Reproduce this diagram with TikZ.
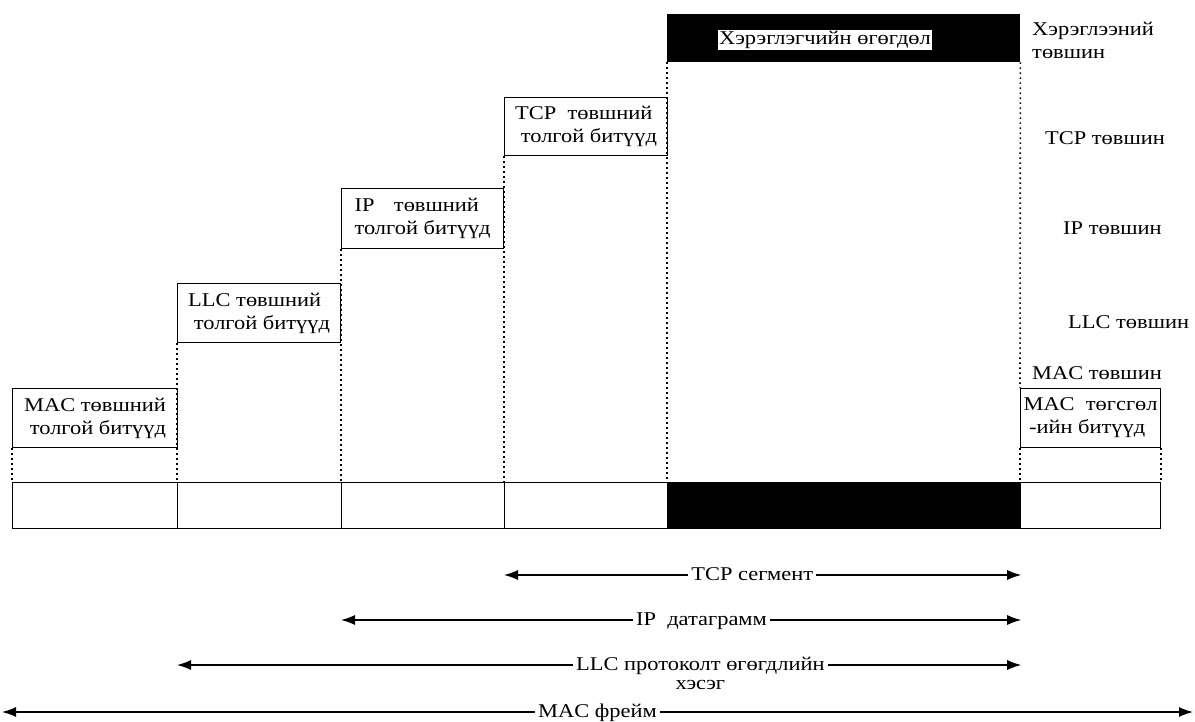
\documentclass[tikz,border=0pt]{standalone}
\usepackage{fontspec}
\setmainfont[FakeStretch=1.15]{Liberation Serif}
\usetikzlibrary{arrows.meta,positioning}

\tikzset{
  hdr/.style={draw, line width=1.2pt, align=left, inner sep=2pt, anchor=north west},
  cell/.style={draw, line width=1.2pt, minimum height=46pt, inner sep=0pt, anchor=north west},
  dots/.style={line width=1.6pt, dash pattern=on 1.6pt off 3.4pt},
  span/.style={line width=1.2pt, {Latex[length=14pt,width=10pt]}-{Latex[length=14pt,width=10pt]}},
  lbl/.style={fill=white, inner xsep=3pt, inner ysep=1pt, anchor=base, yshift=-5pt},
  lvl/.style={align=left, inner sep=0pt, anchor=base west},
}

\begin{document}
\begin{tikzpicture}[x=1pt, y=-1pt, font=\fontsize{19.5}{23}\selectfont]
\useasboundingbox (0,0) rectangle (1195,722);

% user data on top
\node[fill=black, minimum width=353pt, minimum height=48pt, inner sep=0pt, anchor=north west] (appd) at (667,14) {};
\node[draw, fill=white, line width=0.8pt, inner sep=1.5pt] (appt) at (825,40) {Хэрэглэгчийн өгөгдөл};

% header boxes, one per layer
\node[hdr, minimum width=163pt, minimum height=58pt] (tcph) at (504,97) {TCP\ \ төвшний\\\ толгой битүүд};
\node[hdr, minimum width=162pt, minimum height=60pt] (iph) at (341,188) {IP\quad төвшний\\толгой битүүд};
\node[hdr, minimum width=163pt, minimum height=59pt] (llch) at (177,283) {LLC төвшний\\\ толгой битүүд};
\node[hdr, minimum width=165pt, minimum height=59pt] (mach) at (12,388) {MAC төвшний\\\ толгой битүүд};
\node[hdr, minimum width=140pt, minimum height=59pt] (mact) at (1020,388) {MAC\ \ төгсгөл\\\ -ийн битүүд};

% layer names
\node[lvl] (appl) at (1032,59) {Хэрэглээний\\төвшин};
\node[lvl] (tcpl) at (1045,145) {TCP төвшин};
\node[lvl] (ipl) at (1063,235) {IP төвшин};
\node[lvl] (llcl) at (1068,328) {LLC төвшин};
\node[lvl] (macl) at (1032,379) {MAC төвшин};

% the frame
\foreach \x/\col/\n [remember=\x as \last (initially 12)] in
    {177/white/1, 341/white/2, 504/white/3, 667/white/4, 1020/black/5, 1160/white/6}{
  \node[cell, fill=\col, minimum width={\x pt-\last pt}] (cell\n) at (\last,482) {};
}

% dotted guides
\draw[dots] (mach.south west) -- (cell1.north west);
\draw[dots] (llch.south west) -- (cell2.north west);
\draw[dots] (iph.south west) -- (cell3.north west);
\draw[dots] (tcph.south west) -- (cell4.north west);
\draw[dots] (appd.south west) -- (cell5.north west);
\draw[dots] (appd.south east) -- (mact.north west);
\draw[dots] (mact.south west) -- (cell6.north west);
\draw[dots] (mact.south east) -- (cell6.north east);

% spans
\coordinate (frl) at (2,712);
\coordinate (frr) at (1193,712);
\draw[span] (cell4.west |- 0,575) -- node[lbl, pos=0.48] (tcps) {TCP сегмент} (cell5.east |- 0,575);
\draw[span] (cell3.west |- 0,620) -- node[lbl, pos=0.53] (ipd) {IP\ \ датаграмм} (cell5.east |- 0,620);
\draw[span] (cell2.west |- 0,665) -- node[lbl, pos=0.62] (llcp) {LLC протоколт өгөгдлийн} (cell5.east |- 0,665);
\node[inner sep=0pt, below=4pt of llcp] (llcp2) {хэсэг};
\draw[span] (frl) -- node[lbl, pos=0.5] (macf) {MAC фрейм} (frr);
\end{tikzpicture}
\end{document}
